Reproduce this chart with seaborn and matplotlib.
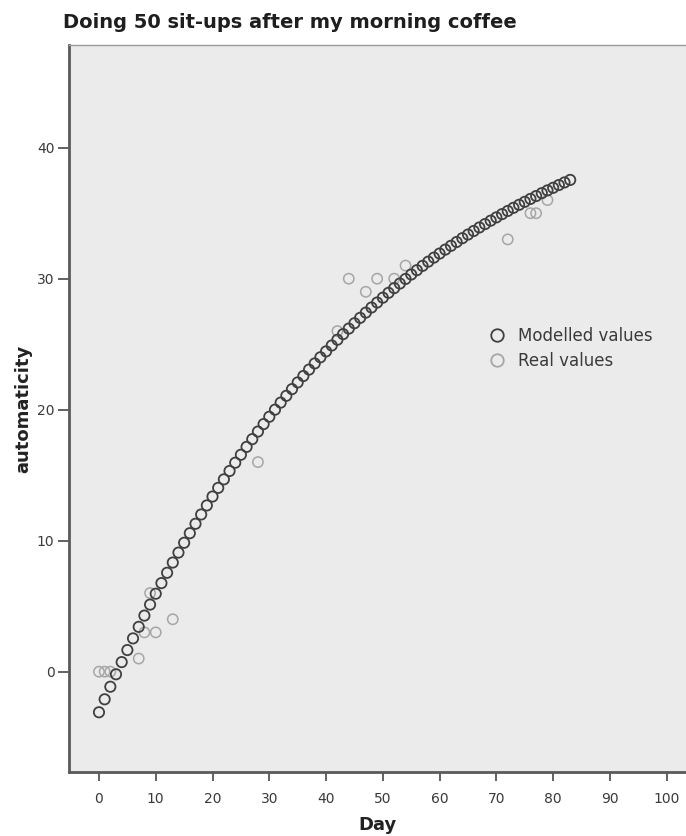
import numpy as np
import pandas as pd
import matplotlib
matplotlib.use("Agg")
import matplotlib.pyplot as plt
from matplotlib.lines import Line2D
import seaborn as sns

# Fitted (modelled) automaticity for each day, 0..83
model_days = list(range(84))
model_values = [
    -3.10, -2.11, -1.15, -0.20, 0.73, 1.65, 2.54, 3.42, 4.28, 5.12,
    5.95, 6.76, 7.55, 8.33, 9.09, 9.84, 10.57, 11.29, 12.00, 12.69,
    13.37, 14.03, 14.68, 15.32, 15.95, 16.56, 17.16, 17.75, 18.33, 18.90,
    19.46, 20.00, 20.54, 21.06, 21.57, 22.08, 22.57, 23.06, 23.53, 24.00,
    24.45, 24.90, 25.34, 25.77, 26.19, 26.60, 27.01, 27.41, 27.80, 28.18,
    28.55, 28.92, 29.28, 29.63, 29.98, 30.32, 30.65, 30.98, 31.30, 31.61,
    31.92, 32.22, 32.51, 32.80, 33.09, 33.37, 33.64, 33.91, 34.17, 34.43,
    34.68, 34.93, 35.17, 35.41, 35.64, 35.87, 36.09, 36.31, 36.53, 36.74,
    36.94, 37.15, 37.35, 37.54,
]

# Self-reported automaticity on the days it was recorded
real_days = [0, 1, 2, 7, 8, 9, 10, 13, 28, 42, 44, 47, 49, 52, 54, 72, 76, 77, 79]
real_values = [0, 0, 0, 1, 3, 6, 3, 4, 16, 26, 30, 29, 30, 30, 31, 33, 35, 35, 36]

x_ticks = [0, 10, 20, 30, 40, 50, 60, 70, 80, 90, 100]
y_ticks = [0, 10, 20, 30, 40]

title = "Doing 50 sit-ups after my morning coffee"
legend_labels = ["Modelled values", "Real values"]

model_df = pd.DataFrame({"Day": model_days, "automaticity": model_values})
real_df = pd.DataFrame({"Day": real_days, "automaticity": real_values})

sns.set_theme(style="white")
plt.rcParams["font.family"] = ["DejaVu Sans"]

dark = "#404040"
light = "#a6a6a6"

fig = plt.figure(figsize=(6.86, 8.36), dpi=100)
ax = fig.add_axes([69 / 686, 1 - 772 / 836, 1 - 69 / 686, (772 - 45) / 836])
ax.set_facecolor("#ebebeb")

sns.scatterplot(data=real_df, x="Day", y="automaticity", ax=ax, marker="o",
                s=55, fc="none", ec=light, linewidth=1.1, zorder=2)
sns.scatterplot(data=model_df, x="Day", y="automaticity", ax=ax, marker="o",
                s=55, fc="none", ec=dark, linewidth=1.3, zorder=3)

ax.set_xlim(-5.28, 103.4)
ax.set_ylim(-7.66, 47.84)
ax.set_xticks(x_ticks)
ax.set_yticks(y_ticks)

ax.tick_params(axis="x", direction="out", length=6.5, width=1.3, color="#555555",
               pad=8, labelsize=10, labelcolor="#3a3a3a", bottom=True)
ax.tick_params(axis="y", direction="out", length=8, width=1.3, color="#555555",
               pad=2.5, labelsize=10, labelcolor="#3a3a3a", left=True)

for side in ("left", "bottom"):
    ax.spines[side].set_color("#5a5a5a")
    ax.spines[side].set_linewidth(2.0)
ax.spines["top"].set_color("#9a9a9a")
ax.spines["top"].set_linewidth(1.0)
ax.spines["right"].set_visible(False)

ax.set_xlabel("Day", fontsize=13, fontweight="bold", color="#222222", labelpad=7)
ax.set_ylabel("automaticity", fontsize=13, fontweight="bold", color="#222222", labelpad=3)

handles = [
    Line2D([], [], linestyle="none", marker="o", markersize=9, markerfacecolor="none",
           markeredgecolor=dark, markeredgewidth=1.3),
    Line2D([], [], linestyle="none", marker="o", markersize=9, markerfacecolor="none",
           markeredgecolor=light, markeredgewidth=1.3),
]
leg = ax.legend(handles, legend_labels, loc="center left",
                bbox_to_anchor=(488.5 / 686, 1 - 348.3 / 836), bbox_transform=fig.transFigure,
                frameon=False, fontsize=12, handletextpad=0.76, handlelength=1.0,
                labelspacing=0.42, borderaxespad=0, borderpad=0)
for t in leg.get_texts():
    t.set_color("#3a3a3a")

fig.text(63 / 686, 1 - 22 / 836, title, fontsize=14, fontweight="bold",
         color="#1e1e1e", ha="left", va="center")

fig.savefig("out.png", dpi=100, facecolor="white")
